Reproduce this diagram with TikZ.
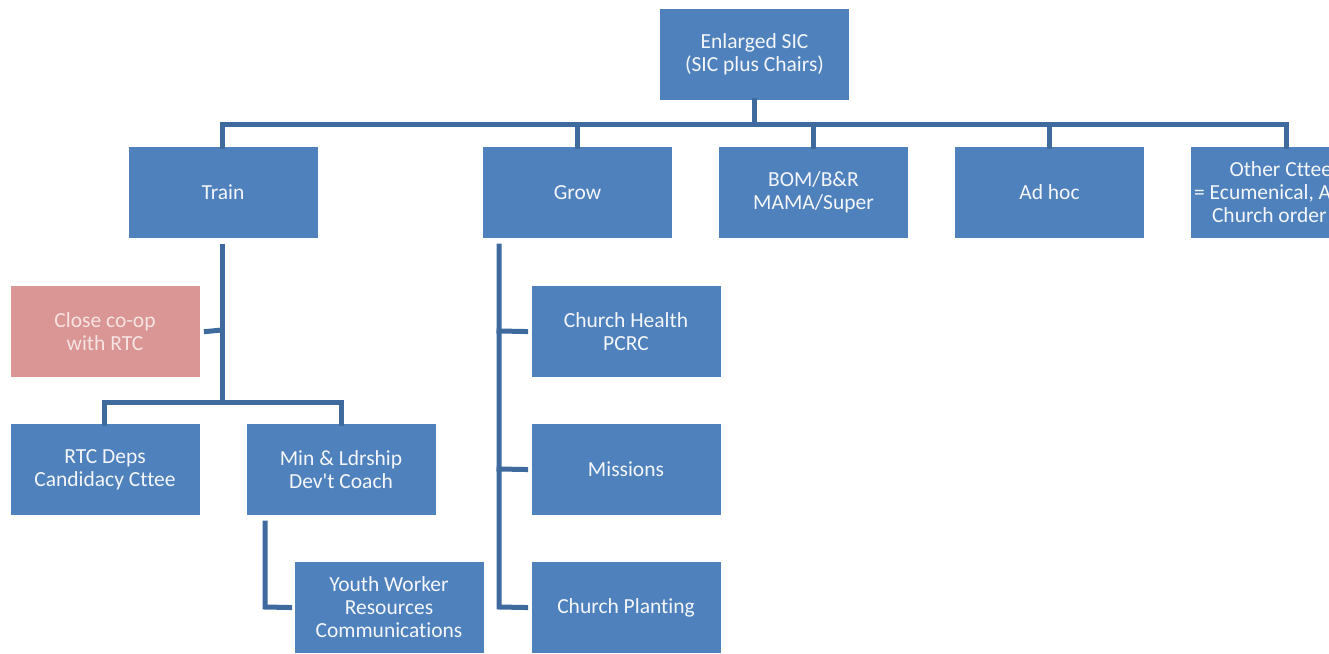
\documentclass[tikz,border=0pt]{standalone}
\usepackage{fontspec}
\setmainfont{Carlito}[Ligatures={TeXOff,CommonOff}]
\definecolor{boxblue}{HTML}{4F81BD}
\definecolor{linkblue}{HTML}{3E6A9E}
\definecolor{boxpink}{HTML}{D99694}
\definecolor{txtlight}{HTML}{F4F6FA}
\definecolor{txtpink}{HTML}{F6E4E3}
\begin{document}
\begin{tikzpicture}[x=1pt,y=-1pt,
  unit/.style={draw=white,line width=0.8pt,fill=boxblue,text=txtlight,
    minimum width=190pt,minimum height=92pt,inner sep=0pt,align=center,
    font=\fontsize{21.5}{23}\selectfont},
  pinkunit/.style={unit,fill=boxpink,text=txtpink},
  link/.style={draw=linkblue,line width=5pt,line cap=rect,line join=miter}]
\useasboundingbox (0,0) rectangle (1329,653);
\begin{scope}
\clip (0,0) rectangle (1329,653);
\node[unit] (sic) at (754.5,54.5) {Enlarged SIC\\(SIC plus Chairs)};
\node[unit] (train) at (223,192.5) {Train};
\node[unit] (grow) at (577.5,192.5) {Grow};
\node[unit] (bom) at (813.5,192.5) {BOM/B\&R\\MAMA/Super};
\node[unit] (adhoc) at (1049.5,192.5) {Ad hoc};
\node[unit] (other) at (1285,192.5) {Other Cttees\\= Ecumenical, Admin\\Church order etc};
\node[pinkunit] (coop) at (105,331.5) {Close co-op\\with RTC};
\node[unit] (rtc) at (105,469.5) {RTC Deps\\Candidacy Cttee};
\node[unit] (min) at (341,469.5) {Min \& Ldrship\\Dev't Coach};
\node[unit] (youth) at (389,607.5) {Youth Worker\\Resources\\Communications};
\node[unit] (health) at (626,331.5) {Church Health\\PCRC};
\node[unit] (missions) at (626,469.5) {Missions};
\node[unit] (planting) at (626,607.5) {Church Planting};

\coordinate (bus) at (0,124);
% top bus
\draw[link] (sic.south) -- (sic.south |- bus);
\draw[link] (train.north -| 222,0) -- (222,124) -- (1286,124) -- (other.north -| 1286,0);
\draw[link] (grow.north -| 577,0) -- (577,124);
\draw[link] (bom.north) -- (bom.north |- bus);
\draw[link] (adhoc.north) -- (adhoc.north |- bus);
% Train branch
\coordinate (tdown) at (222,246);
\draw[link] (tdown) -- (222,402);
\draw[link] (222,330) -- ([xshift=6pt]coop.east);
\draw[link] (rtc.north -| 104,0) -- (104,402) -- (341,402) -- (min.north);
% Min branch
\draw[link] (265,523) -- (265,607) -- ([xshift=-4pt]youth.west);
% Grow branch
\draw[link] (499,246) -- (499,607) -- ([xshift=-5pt]planting.west);
\draw[link] (499,331) -- ([xshift=-5pt]health.west);
\draw[link] (499,469) -- ([xshift=-5pt]missions.west);
\end{scope}
\end{tikzpicture}
\end{document}
